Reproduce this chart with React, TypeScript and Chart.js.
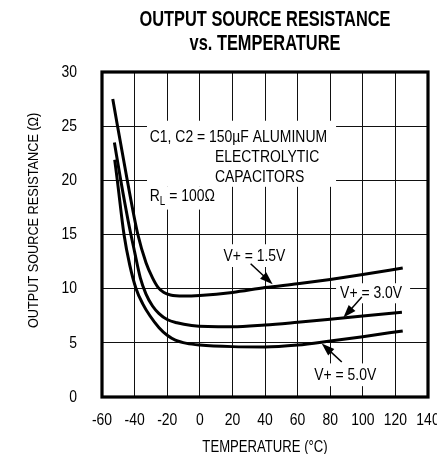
import React, { useEffect, useRef } from "react";
import { Chart, registerables } from "chart.js";

Chart.register(...registerables);

const FONT = "'Liberation Sans Narrow', 'Arial Narrow', 'Liberation Sans', Arial, sans-serif";
const TEXT_SX = 0.82; // horizontal condensing of normal text (Helvetica Condensed look)
const TITLE_SX = 0.745; // horizontal condensing of the bold title

// ---- text ----
const TITLE_LINES = ["OUTPUT SOURCE RESISTANCE", "vs. TEMPERATURE"];
const X_TITLE = "TEMPERATURE (°C)";
const Y_TITLE = "OUTPUT SOURCE RESISTANCE (Ω)";

// ---- axes ----
const X_MIN = -60;
const X_MAX = 140;
const X_STEP = 20;
const Y_MIN = 0;
const Y_MAX = 30;
const Y_STEP = 5;

// ---- series (temperature °C, resistance Ω) ----
const T_15 = [-53.4, -44.5, -38, -33, -29, -25.5, -22, -18, -10, 0, 20, 40, 60, 80, 100, 124.5];
const R_15 = [27.5, 20, 15, 12.4, 11.0, 10.1, 9.65, 9.42, 9.33, 9.38, 9.65, 10.1, 10.45, 10.85, 11.3, 11.9];

const T_30 = [-52.4, -48.5, -44, -40, -36.5, -33, -29, -25, -20, -14, -5, 5, 20, 40, 60, 80, 100, 124];
const R_30 = [23.5, 20, 16.3, 13.4, 11.0, 9.5, 8.4, 7.7, 7.15, 6.85, 6.6, 6.5, 6.48, 6.65, 6.9, 7.17, 7.48, 7.82];

const T_50 = [-52.2, -50.6, -46.5, -43, -39.1, -35, -30.6, -25, -20, -15, -8, 0, 20, 40, 60, 80, 100, 124.5];
const R_50 = [21.9, 20, 15, 12.2, 10, 8.6, 7.5, 6.4, 5.7, 5.25, 4.95, 4.8, 4.65, 4.62, 4.8, 5.17, 5.57, 6.1];

// ---- annotations (in data coordinates) ----
const NOTE_LINES = [
  { text: "C1, C2 = 150µF ALUMINUM", t: -30.7, v: 24.0 },
  { text: "ELECTROLYTIC", t: 9.3, v: 22.1 },
  { text: "CAPACITORS", t: 9.3, v: 20.3 },
];
const RL_NOTE = { main: "R", sub: "L", rest: " = 100Ω", t: -30.7, v: 18.5 };
const V_LABELS = [
  { text: "V+ = 1.5V", t: 33.5, v: 13.0 },
  { text: "V+ = 3.0V", t: 105.1, v: 9.57 },
  { text: "V+ = 5.0V", t: 89.2, v: 2.0 },
];
const WHITE_BOXES = [
  [-32.4, 83.6, 19.4, 25.5],
  [-32.4, 14, 17.3, 19.4],
  [13, 54.2, 12.0, 14.1],
  [83.6, 129, 8.65, 10.5],
  [67.6, 110.7, 1.0, 3.1],
];
const ARROWS = [
  [31.2, 12.3, 44.7, 10.4],
  [99.4, 9.23, 88.1, 7.33],
  [87.1, 3.23, 74.8, 4.95],
];

function pts(ts: number[], rs: number[]) {
  return ts.map((t, i) => ({ x: t, y: rs[i] }));
}

function condense(ctx: any) {
  const orig = ctx.fillText;
  ctx.fillText = function (text: string, x: number, y: number, maxWidth?: number) {
    const sx = /bold/.test(ctx.font) ? TITLE_SX : TEXT_SX;
    ctx.save();
    ctx.translate(x, y);
    ctx.scale(sx, 1);
    if (maxWidth === undefined || maxWidth === null) orig.call(ctx, text, 0, 0);
    else orig.call(ctx, text, 0, 0, maxWidth / sx);
    ctx.restore();
  };
  return () => {
    delete ctx.fillText;
  };
}

function drawArrow(ctx: CanvasRenderingContext2D, x0: number, y0: number, x1: number, y1: number) {
  const ang = Math.atan2(y1 - y0, x1 - x0);
  const L = 13;
  const W = 4.5;
  const c = Math.cos(ang);
  const s = Math.sin(ang);
  const bx = x1 - L * c;
  const by = y1 - L * s;
  ctx.beginPath();
  ctx.moveTo(x0, y0);
  ctx.lineTo(bx + 2 * c, by + 2 * s);
  ctx.stroke();
  ctx.beginPath();
  ctx.moveTo(x1, y1);
  ctx.lineTo(bx - W * s, by + W * c);
  ctx.lineTo(bx + W * s, by - W * c);
  ctx.closePath();
  ctx.fill();
}

const annotationPlugin = {
  id: "annotations",
  beforeDatasetsDraw(chart: any) {
    const { ctx } = chart;
    const xs = chart.scales.x;
    const ys = chart.scales.y;
    ctx.save();
    ctx.fillStyle = "#ffffff";
    for (const b of WHITE_BOXES) {
      const x0 = xs.getPixelForValue(b[0]);
      const x1 = xs.getPixelForValue(b[1]);
      const y0 = ys.getPixelForValue(b[3]);
      const y1 = ys.getPixelForValue(b[2]);
      ctx.fillRect(x0, y0, x1 - x0, y1 - y0);
    }
    ctx.fillStyle = "#000000";
    ctx.textBaseline = "middle";
    ctx.font = `17px ${FONT}`;
    ctx.textAlign = "left";
    for (const n of NOTE_LINES) {
      ctx.fillText(n.text, xs.getPixelForValue(n.t), ys.getPixelForValue(n.v));
    }
    // R_L = 100Ω
    let rx = xs.getPixelForValue(RL_NOTE.t);
    const ry = ys.getPixelForValue(RL_NOTE.v);
    ctx.fillText(RL_NOTE.main, rx, ry);
    rx += ctx.measureText(RL_NOTE.main).width * TEXT_SX;
    ctx.font = `12px ${FONT}`;
    ctx.fillText(RL_NOTE.sub, rx, ry + 5);
    rx += ctx.measureText(RL_NOTE.sub).width * TEXT_SX;
    ctx.font = `17px ${FONT}`;
    ctx.fillText(RL_NOTE.rest, rx, ry);
    ctx.textAlign = "center";
    for (const l of V_LABELS) {
      ctx.fillText(l.text, xs.getPixelForValue(l.t), ys.getPixelForValue(l.v));
    }
    ctx.restore();
  },
  afterDatasetsDraw(chart: any) {
    const { ctx, chartArea } = chart;
    const xs = chart.scales.x;
    const ys = chart.scales.y;
    ctx.save();
    ctx.strokeStyle = "#000";
    ctx.fillStyle = "#000";
    ctx.lineWidth = 1.5;
    for (const a of ARROWS) {
      drawArrow(
        ctx,
        xs.getPixelForValue(a[0]),
        ys.getPixelForValue(a[1]),
        xs.getPixelForValue(a[2]),
        ys.getPixelForValue(a[3])
      );
    }
    ctx.lineWidth = 3.2;
    ctx.strokeRect(
      chartArea.left,
      chartArea.top,
      chartArea.right - chartArea.left,
      chartArea.bottom - chartArea.top
    );
    ctx.restore();
  },
};

export default function App() {
  const ref = useRef<HTMLCanvasElement | null>(null);

  useEffect(() => {
    if (!ref.current) return;
    const ctx2d = ref.current.getContext("2d");
    const undo = condense(ctx2d);
    Chart.defaults.font.family = FONT;
    Chart.defaults.color = "#000";
    const lineStyle = {
      borderColor: "#000",
      borderWidth: 3,
      pointRadius: 0,
      fill: false,
      cubicInterpolationMode: "monotone" as const,
    };
    const chart = new Chart(ref.current, {
      type: "line",
      data: {
        datasets: [
          { label: "V+ = 1.5V", data: pts(T_15, R_15), ...lineStyle },
          { label: "V+ = 3.0V", data: pts(T_30, R_30), ...lineStyle },
          { label: "V+ = 5.0V", data: pts(T_50, R_50), ...lineStyle },
        ],
      },
      options: {
        animation: false,
        responsive: false,
        devicePixelRatio: 1,
        layout: { padding: { left: 0, right: 32, top: 0, bottom: 0 } },
        plugins: {
          legend: { display: false },
          tooltip: { enabled: false },
          title: {
            display: true,
            text: TITLE_LINES,
            fullSize: false,
            color: "#000",
            font: { family: FONT, size: 22, weight: "bold", lineHeight: 24 / 22 },
            padding: { top: 8, bottom: 16 },
          },
        },
        scales: {
          x: {
            type: "linear",
            min: X_MIN,
            max: X_MAX,
            afterFit: (s: any) => {
              s.height = 57;
            },
            ticks: {
              stepSize: X_STEP,
              padding: 13,
              color: "#000",
              font: { family: FONT, size: 17 },
              maxRotation: 0,
              autoSkip: false,
              callback: (v: any) => String(v),
            },
            grid: { color: "#111", lineWidth: 1, drawTicks: false },
            border: { display: false },
            title: {
              display: true,
              text: X_TITLE,
              color: "#000",
              font: { family: FONT, size: 16 },
              padding: { top: 0, bottom: -3 },
            },
          },
          y: {
            type: "linear",
            min: Y_MIN,
            max: Y_MAX,
            afterFit: (s: any) => {
              s.width = 102;
            },
            ticks: {
              stepSize: Y_STEP,
              padding: 25,
              color: "#000",
              font: { family: FONT, size: 17 },
            },
            grid: { color: "#111", lineWidth: 1, drawTicks: false },
            border: { display: false },
            title: {
              display: true,
              text: "        " + Y_TITLE,
              color: "#000",
              font: { family: FONT, size: 15.5 },
              padding: { top: 24, bottom: 0 },
            },
          },
        },
      },
      plugins: [annotationPlugin],
    });
    return () => {
      chart.destroy();
      undo();
    };
  }, []);

  return (
    <div
      style={{
        position: "fixed",
        left: 0,
        top: 0,
        width: 437,
        height: 454,
        overflow: "hidden",
        background: "#fff",
      }}
    >
      <canvas ref={ref} width={460} height={454} style={{ display: "block", width: 460, height: 454 }} />
    </div>
  );
}
